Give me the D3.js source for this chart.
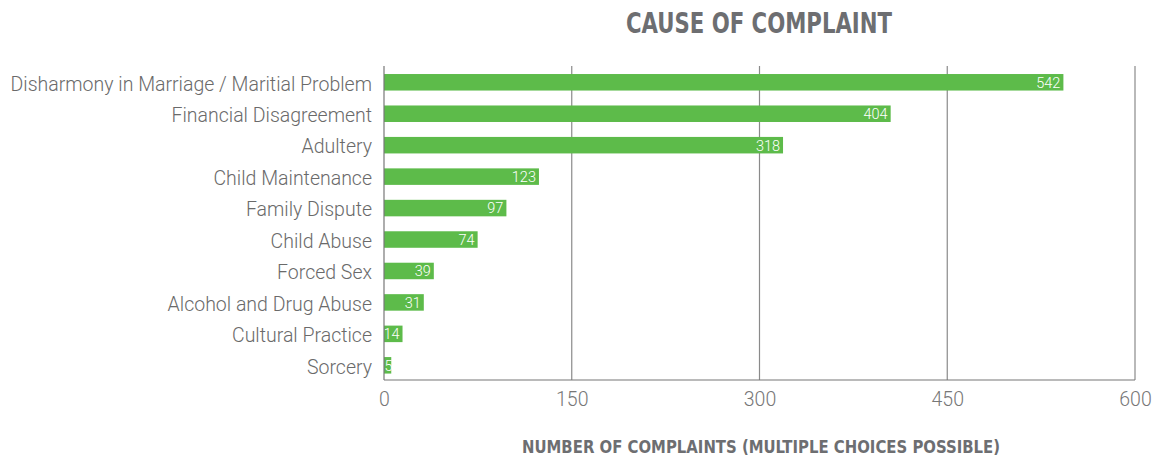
<!DOCTYPE html>
<html><head><meta charset="utf-8">
<script src="https://cdn.jsdelivr.net/npm/d3@7"></script>
<style>
body{margin:0;background:#fff;}
svg{display:block;}
</style></head>
<body>
<svg id="chart" width="1156" height="458"></svg>
<script>
const categories = ["Disharmony in Marriage / Maritial Problem","Financial Disagreement","Adultery","Child Maintenance","Family Dispute","Child Abuse","Forced Sex","Alcohol and Drug Abuse","Cultural Practice","Sorcery"];
const values = [542,404,318,123,97,74,39,31,14,5];
const tickValues = [0,150,300,450,600];
const title = "CAUSE OF COMPLAINT";
const xTitle = "NUMBER OF COMPLAINTS (MULTIPLE CHOICES POSSIBLE)";

const svg = d3.select("#chart");
const m = {left:384, right:1135, top:66, bottom:380};
const x = d3.scaleLinear().domain([0,600]).range([m.left, m.right]);
const y = d3.scaleBand().domain(categories).range([66.8, 380.8]).paddingInner(0.475).paddingOuter(0.23);

// gridlines
svg.append("g").selectAll("line").data(tickValues.slice(1)).join("line")
  .attr("x1", d=>x(d)).attr("x2", d=>x(d)).attr("y1", m.top).attr("y2", m.bottom)
  .attr("stroke", "#8a8a8a").attr("stroke-width", 1.2);

// bars
const data = categories.map((c,i)=>({c, v:values[i]}));
svg.append("g").selectAll("rect").data(data).join("rect")
  .attr("x", x(0)).attr("y", d=>y(d.c)).attr("width", d=>x(d.v)-x(0)+1).attr("height", y.bandwidth())
  .attr("fill", "#5dbb4a");

// bar value labels
svg.append("g").selectAll("text").data(data).join("text")
  .attr("x", d=>d.v<10 ? x(0)+0.5 : x(d.v)-2).attr("y", d=>y(d.c)+y.bandwidth()/2)
  .attr("dy","0.37em")
  .attr("text-anchor", d=> d.v<10 ? "start" : "end")
  .attr("fill","#fff").style("font-family","Roboto").style("font-weight","300").style("font-size","14.5px")
  .text(d=>d.v);

// axes lines
svg.append("line").attr("x1", x(0)).attr("x2", x(0)).attr("y1", m.top).attr("y2", m.bottom).attr("stroke","#777").attr("stroke-width",1.2);
svg.append("line").attr("x1", x(0)).attr("x2", m.right).attr("y1", m.bottom).attr("y2", m.bottom).attr("stroke","#777").attr("stroke-width",1.2);

// category labels
const yAxis = d3.axisLeft(y).tickSize(0).tickPadding(12);
const gy = svg.append("g").attr("transform",`translate(${x(0)},2)`).call(yAxis);
gy.select(".domain").remove();
gy.selectAll("text").attr("fill","#6a6a6a").style("font-family","Roboto").style("font-weight","300").style("font-size","19.5px");

// x tick labels
const xAxis = d3.axisBottom(x).tickValues(tickValues).tickSize(0).tickPadding(12);
const gx = svg.append("g").attr("transform",`translate(0,${m.bottom})`).call(xAxis);
gx.select(".domain").remove();
gx.selectAll("text").attr("fill","#777").style("font-family","Roboto").style("font-weight","300").style("font-size","19.5px");

// titles
svg.append("text").attr("x", 759).attr("y", 33).attr("text-anchor","middle")
  .attr("fill","#6d6e71").style("font-family","'Liberation Sans Narrow', 'DejaVu Sans Condensed', sans-serif")
  .style("font-weight","700").style("font-size","28px")
  .attr("textLength", 266).attr("lengthAdjust","spacingAndGlyphs").text(title);
svg.append("text").attr("x", 761).attr("y", 453).attr("text-anchor","middle")
  .attr("fill","#6d6e71").style("font-family","'Liberation Sans Narrow', 'DejaVu Sans Condensed', sans-serif")
  .style("font-weight","700").style("font-size","18px")
  .attr("textLength", 478).attr("lengthAdjust","spacingAndGlyphs").text(xTitle);
</script>
</body></html>
